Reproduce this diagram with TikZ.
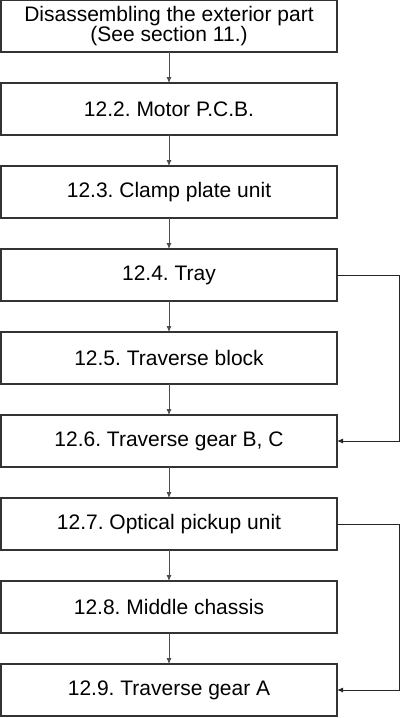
\documentclass[tikz,border=0pt]{standalone}
\usepackage{fontspec}
\setmainfont{Liberation Sans}
\frenchspacing
\usetikzlibrary{positioning,arrows.meta}
\tikzset{
  stage/.style={draw=black!80,line width=1.6pt,minimum width=336pt,minimum height=52pt,
    inner sep=1pt,outer sep=0pt,align=center,font=\fontsize{21}{20.5}\selectfont},
  flow/.style={draw=black!70,line width=0.8pt,-{Latex[length=6pt,width=5pt]}},
  skip/.style={flow,draw=black!85,line width=1pt}
}

\begin{document}
\begin{tikzpicture}[node distance=31pt]
  \useasboundingbox (0,0) rectangle (400pt,-718pt);
  \node[stage] (exterior) at (169pt,-26pt) {Disassembling the exterior part\\(See section 11.)};
  \node[stage,below=of exterior] (motor) {12.2. Motor P.C.B.};
  \node[stage,below=of motor] (clamp) {12.3. Clamp plate unit};
  \node[stage,below=of clamp] (tray) {12.4. Tray};
  \node[stage,below=of tray] (block) {12.5. Traverse block};
  \node[stage,below=of block] (gearbc) {12.6. Traverse gear B, C};
  \node[stage,below=of gearbc] (pickup) {12.7. Optical pickup unit};
  \node[stage,below=of pickup] (chassis) {12.8. Middle chassis};
  \node[stage,below=of chassis] (geara) {12.9. Traverse gear A};

  % main sequence
  \foreach \a/\b in {exterior/motor,motor/clamp,clamp/tray,tray/block,
                     block/gearbc,gearbc/pickup,pickup/chassis,chassis/geara}
    \draw[flow] (\a) -- (\b);

  % shortcuts on the right
  \draw[skip] (tray.east) -- ++(62pt,0) |- (gearbc.east);
  \draw[skip] (pickup.east) -- ++(62pt,0) |- (geara.east);
\end{tikzpicture}
\end{document}
